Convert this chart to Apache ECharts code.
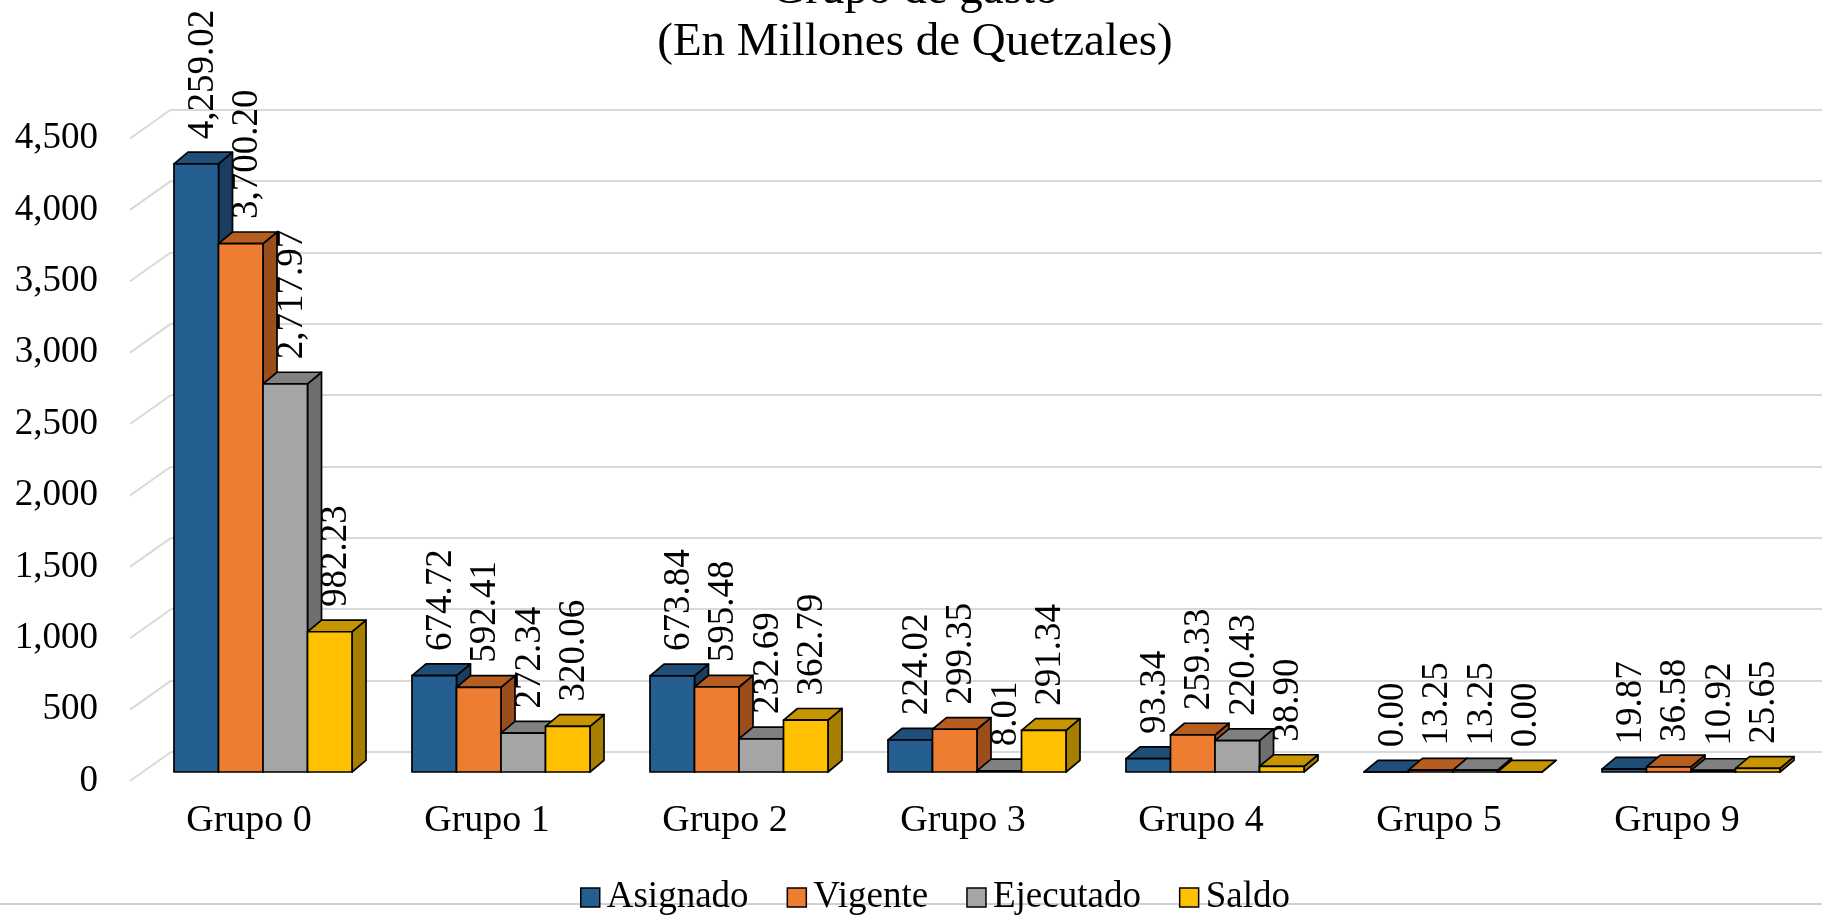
<!DOCTYPE html>
<html><head><meta charset="utf-8">
<script src="https://cdn.jsdelivr.net/npm/echarts@6/dist/echarts.min.js"></script>
<style>html,body{margin:0;padding:0;background:#fff}#c{width:1822px;height:915px}</style>
</head><body><div id="c"></div>
<script>
// ---- data ----
var categories = ['Grupo 0', 'Grupo 1', 'Grupo 2', 'Grupo 3', 'Grupo 4', 'Grupo 5', 'Grupo 9'];
var seriesNames = ['Asignado', 'Vigente', 'Ejecutado', 'Saldo'];
var asignado  = [4259.02, 674.72, 673.84, 224.02, 93.34, 0.00, 19.87];
var vigente   = [3700.20, 592.41, 595.48, 299.35, 259.33, 13.25, 36.58];
var ejecutado = [2717.97, 272.34, 232.69, 8.01, 220.43, 13.25, 10.92];
var saldo     = [982.23, 320.06, 362.79, 291.34, 38.90, 0.00, 25.65];
var yTicks = [0, 500, 1000, 1500, 2000, 2500, 3000, 3500, 4000, 4500];
var titleLines = ['Grupo de gasto', '(En Millones de Quetzales)'];

// ---- style / layout constants ----
var FONT = '"Liberation Serif", "Times New Roman", serif';
var FLOOR_DX = 41, FLOOR_DY = 29;      // depth of floor / back wall
var BAR_OX = 14, BAR_OY = 9;           // bar front plane offset from front floor edge
var BAR_DX = 14, BAR_DY = 11.7;        // bar depth
var BAR_FRAC = 0.187;                  // bar width relative to category band
var LABEL_GAP = 13;
var faces = [
  {front: '#255E91', top: '#1F4E79', side: '#1A3D61'},
  {front: '#ED7D31', top: '#B65D22', side: '#9C4D1C'},
  {front: '#A5A5A5', top: '#808080', side: '#6F6F6F'},
  {front: '#FFC000', top: '#C69500', side: '#A67F00'}
];
var allValues = [asignado, vigente, ejecutado, saldo];

var G_LEFT = 130, G_WIDTH = 1666, G_TOP = 138.5, G_HEIGHT = 642.5;

function fmt(v) {
  return v.toLocaleString('en-US', {minimumFractionDigits: 2, maximumFractionDigits: 2});
}

function makeBarRender(sIdx) {
  return function (params, api) {
    var cat = api.value(0), val = api.value(1);
    var base = api.coord([cat, 0]);
    var topP = api.coord([cat, val]);
    var band = api.size([1, 0])[0];
    var bw = band * BAR_FRAC;
    var x0 = base[0] - 2 * bw + sIdx * bw + BAR_OX;
    var x1 = x0 + bw;
    var yb = base[1] - BAR_OY;
    var yt = topP[1] - BAR_OY;
    var f = faces[sIdx];
    function s(fill) { return {fill: fill, stroke: '#000', lineWidth: 1.7, lineJoin: 'round'}; }
    return {
      type: 'group',
      children: [
        {type: 'polygon', shape: {points: [[x1, yt], [x1 + BAR_DX, yt - BAR_DY], [x1 + BAR_DX, yb - BAR_DY], [x1, yb]]}, style: s(f.side)},
        {type: 'polygon', shape: {points: [[x0, yt], [x1, yt], [x1 + BAR_DX, yt - BAR_DY], [x0 + BAR_DX, yt - BAR_DY]]}, style: s(f.top)},
        {type: 'polygon', shape: {points: [[x0, yt], [x1, yt], [x1, yb], [x0, yb]]}, style: s(f.front)},
        {type: 'text', x: x0 + bw / 2 + BAR_DX / 2, y: yt - BAR_DY - LABEL_GAP, rotation: Math.PI / 2, z2: 20,
          style: {text: fmt(val), font: '37px ' + FONT, fill: '#000', align: 'left', verticalAlign: 'middle', textAlign: 'left', textVerticalAlign: 'middle'}}
      ]
    };
  };
}

var series = [];
// diagonal lines of the side wall at each tick
series.push({
  type: 'custom', name: '_diag', xAxisIndex: 0, yAxisIndex: 0, silent: true, z: 1, clip: false,
  data: yTicks.map(function (v) { return [0, v]; }),
  renderItem: function (params, api) {
    var p = api.coord([0, api.value(1)]);
    var x = p[0] - api.size([1, 0])[0] / 2;
    return {type: 'line', shape: {x1: x, y1: p[1], x2: x + FLOOR_DX, y2: p[1] - FLOOR_DY},
      style: {stroke: '#D9D9D9', lineWidth: 2}};
  }
});
seriesNames.forEach(function (name, i) {
  series.push({
    type: 'custom', name: name, xAxisIndex: 0, yAxisIndex: 0, z: 2 + i, clip: false,
    itemStyle: {color: faces[i].front},
    data: allValues[i].map(function (v, k) { return [k, v]; }),
    encode: {x: 0, y: 1},
    renderItem: makeBarRender(i)
  });
});

var chart = echarts.init(document.getElementById('c'));
chart.setOption({
  animation: false,
  backgroundColor: '#fff',
  grid: [
    {left: G_LEFT, width: G_WIDTH, top: G_TOP, height: G_HEIGHT},
    {left: G_LEFT + FLOOR_DX, width: G_WIDTH, top: G_TOP - FLOOR_DY, height: G_HEIGHT}
  ],
  xAxis: [
    {type: 'category', gridIndex: 0, data: categories, axisLine: {show: false}, axisTick: {show: false},
      axisLabel: {fontSize: 38, fontFamily: FONT, color: '#000', margin: 21}},
    {type: 'category', gridIndex: 1, data: categories, show: false}
  ],
  yAxis: [
    {type: 'value', gridIndex: 0, min: 0, max: 4500, interval: 500, splitLine: {show: false},
      axisLine: {show: false}, axisTick: {show: false},
      axisLabel: {fontSize: 37, fontFamily: FONT, color: '#000', margin: 32,
        formatter: function (v) { return v.toLocaleString('en-US'); }}},
    {type: 'value', gridIndex: 1, min: 0, max: 4500, interval: 500,
      axisLine: {show: false}, axisTick: {show: false}, axisLabel: {show: false},
      splitLine: {show: true, lineStyle: {color: '#D9D9D9', width: 2}}}
  ],
  legend: {
    data: seriesNames, left: 575, top: 874, itemWidth: 19, itemHeight: 19, itemGap: 38, icon: 'rect',
    itemStyle: {borderColor: '#000', borderWidth: 1.5},
    textStyle: {fontSize: 37, fontFamily: FONT, color: '#000', padding: [0, 0, 0, 2]}
  },
  graphic: [
    {type: 'line', z: -10, shape: {x1: 0, y1: 904, x2: 1822, y2: 904}, style: {stroke: '#D0D0D0', lineWidth: 2}},
    {type: 'text', x: 915, y: -9, style: {text: titleLines[0], font: '47px ' + FONT, fill: '#000', align: 'center', verticalAlign: 'middle', textAlign: 'center', textVerticalAlign: 'middle'}},
    {type: 'text', x: 915, y: 43, style: {text: titleLines[1], font: '47px ' + FONT, fill: '#000', align: 'center', verticalAlign: 'middle', textAlign: 'center', textVerticalAlign: 'middle'}}
  ],
  series: series
});
</script>
</body></html>
